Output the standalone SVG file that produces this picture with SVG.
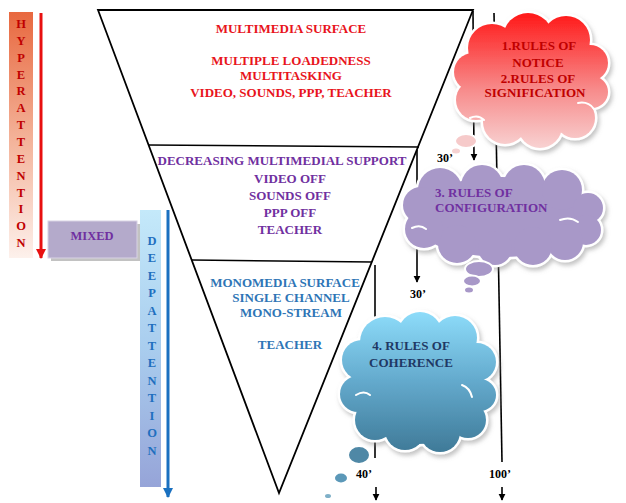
<svg xmlns="http://www.w3.org/2000/svg" width="626" height="503" viewBox="0 0 626 503">
<style>
text{font-family:"Liberation Serif","Times New Roman",serif;font-weight:bold}
.t{font-size:13px;text-anchor:middle}
.red{fill:#e8141c}
.pur{fill:#7030a0}
.blu{fill:#2e75b6}
.hy{font-size:12.5px;fill:#c00000;text-anchor:middle}
.dp{font-size:12.5px;fill:#1f6fbf;text-anchor:middle}
.ln{stroke:#000;stroke-width:1.6;fill:none}
.ar{stroke:#000;stroke-width:1.6;fill:none;marker-end:url(#ah)}
.lbl{font-size:12px;fill:#000;text-anchor:middle}
.tri{fill:#fff;stroke:#000;stroke-width:1.8;stroke-linejoin:miter}
.bub{stroke:#fff;stroke-width:2}
.crease{fill:none;stroke:#fff;stroke-width:2;stroke-linecap:round}
</style>
<defs>
<marker id="ah" viewBox="0 0 10 10" refX="9" refY="5" markerWidth="7" markerHeight="8" markerUnits="userSpaceOnUse" orient="auto"><path d="M0,0 L10,5 L0,10 z" fill="#000"/></marker>
<marker id="ahR" viewBox="0 0 10 10" refX="9" refY="5" markerWidth="10" markerHeight="10" markerUnits="userSpaceOnUse" orient="auto"><path d="M0,0 L10,5 L0,10 z" fill="#e81010"/></marker>
<marker id="ahB" viewBox="0 0 10 10" refX="9" refY="5" markerWidth="10" markerHeight="10" markerUnits="userSpaceOnUse" orient="auto"><path d="M0,0 L10,5 L0,10 z" fill="#1a70c0"/></marker>
<linearGradient id="gHy" x1="0" y1="0" x2="0" y2="1"><stop offset="0" stop-color="#e8683f"/><stop offset="0.5" stop-color="#f3b096"/><stop offset="1" stop-color="#fdf1ec"/></linearGradient>
<linearGradient id="gDp" x1="0" y1="0" x2="0" y2="1"><stop offset="0" stop-color="#c4e9fa"/><stop offset="0.5" stop-color="#a9cdee"/><stop offset="1" stop-color="#96a4d8"/></linearGradient>
<linearGradient id="gRed" gradientUnits="userSpaceOnUse" x1="0" y1="14" x2="0" y2="150"><stop offset="0" stop-color="#ff1a1a"/><stop offset="0.55" stop-color="#f78a8a"/><stop offset="1" stop-color="#f8d4d4"/></linearGradient>
<linearGradient id="gBlu" gradientUnits="userSpaceOnUse" x1="0" y1="312" x2="0" y2="452"><stop offset="0" stop-color="#8ddcfa"/><stop offset="0.5" stop-color="#63a9cc"/><stop offset="1" stop-color="#3f7a98"/></linearGradient>
<filter id="sh" x="-10%" y="-10%" width="130%" height="130%"><feDropShadow dx="2" dy="3" stdDeviation="2" flood-color="#888" flood-opacity="0.5"/></filter>
<g id="cR">
<ellipse cx="531" cy="82" rx="66" ry="52"/>
<circle cx="492" cy="48" r="24"/><circle cx="528" cy="38" r="25"/><circle cx="566" cy="40" r="24"/>
<circle cx="590" cy="63" r="18"/><circle cx="592" cy="92" r="16"/><circle cx="575" cy="118" r="20"/>
<circle cx="540" cy="126" r="22"/><circle cx="505" cy="122" r="22"/><circle cx="476" cy="100" r="20"/>
<circle cx="473" cy="72" r="19"/>
</g>
<g id="cP">
<ellipse cx="502" cy="217" rx="92" ry="40"/>
<circle cx="440" cy="190" r="22"/><circle cx="482" cy="186" r="21"/><circle cx="524" cy="186" r="21"/>
<circle cx="562" cy="190" r="20"/><circle cx="588" cy="208" r="15"/><circle cx="586" cy="230" r="15"/>
<circle cx="565" cy="242" r="18"/><circle cx="533" cy="246" r="19"/><circle cx="495" cy="248" r="17"/>
<circle cx="457" cy="244" r="19"/><circle cx="424" cy="229" r="19"/><circle cx="421" cy="205" r="18"/>
</g>
<g id="cB">
<ellipse cx="418" cy="384" rx="66" ry="60"/>
<circle cx="385" cy="342" r="25"/><circle cx="420" cy="334" r="22"/><circle cx="455" cy="338" r="22"/>
<circle cx="477" cy="362" r="19"/><circle cx="480" cy="395" r="16"/><circle cx="468" cy="420" r="18"/>
<circle cx="440" cy="432" r="20"/><circle cx="405" cy="430" r="20"/><circle cx="375" cy="420" r="20"/>
<circle cx="358" cy="394" r="18"/><circle cx="362" cy="360" r="20"/>
</g>
</defs>
<rect width="626" height="503" fill="#fff"/>

<g id="funnel">
<path class="tri" d="M98,10 L473,10 L279,493 Z"/>
<line class="ln" x1="148" y1="145" x2="419" y2="147"/>
<line class="ln" x1="192" y1="260" x2="372" y2="262"/>
</g>

<g id="multimedia-surface">
<text class="t red" x="291" y="33">MULTIMEDIA SURFACE</text>
<text class="t red" x="291" y="65">MULTIPLE LOADEDNESS</text>
<text class="t red" x="291" y="80">MULTITASKING</text>
<text class="t red" x="291" y="97">VIDEO, SOUNDS, PPP, TEACHER</text>
</g>

<g id="decreasing-support">
<text class="t pur" x="282" y="165">DECREASING MULTIMEDIAL SUPPORT</text>
<text class="t pur" x="290" y="183">VIDEO OFF</text>
<text class="t pur" x="290" y="200">SOUNDS OFF</text>
<text class="t pur" x="290" y="217">PPP OFF</text>
<text class="t pur" x="290" y="234">TEACHER</text>
</g>

<g id="monomedia-surface">
<text class="t blu" x="285" y="287">MONOMEDIA SURFACE</text>
<text class="t blu" x="291" y="302">SINGLE CHANNEL</text>
<text class="t blu" x="291" y="317">MONO-STREAM</text>
<text class="t blu" x="290" y="349">TEACHER</text>
</g>

<g id="hyperattention">
<rect x="9" y="12" width="24" height="246" fill="url(#gHy)"/>
<text class="hy" x="21" y="28">H</text>
<text class="hy" x="21" y="45">Y</text>
<text class="hy" x="21" y="62">P</text>
<text class="hy" x="21" y="79">E</text>
<text class="hy" x="21" y="95">R</text>
<text class="hy" x="21" y="112">A</text>
<text class="hy" x="21" y="129">T</text>
<text class="hy" x="21" y="146">T</text>
<text class="hy" x="21" y="163">E</text>
<text class="hy" x="21" y="180">N</text>
<text class="hy" x="21" y="197">T</text>
<text class="hy" x="21" y="213">I</text>
<text class="hy" x="21" y="230">O</text>
<text class="hy" x="21" y="247">N</text>
<line x1="41" y1="13" x2="41" y2="258" stroke="#e81010" stroke-width="3" marker-end="url(#ahR)"/>
</g>

<g id="mixed">
<rect x="51" y="224" width="89" height="37" fill="#9a9a9a" opacity="0.6"/>
<rect x="48" y="221" width="89" height="37" fill="#b4aacb" stroke="#d8d2e4" stroke-width="1"/>
<text x="92" y="240" style="font-size:12.5px;fill:#7030a0;text-anchor:middle">MIXED</text>
</g>

<g id="deepattention">
<rect x="140" y="210" width="21" height="277" fill="url(#gDp)"/>
<text class="dp" x="152" y="245">D</text>
<text class="dp" x="152" y="262">E</text>
<text class="dp" x="152" y="280">E</text>
<text class="dp" x="152" y="297">P</text>
<text class="dp" x="152" y="315">A</text>
<text class="dp" x="152" y="332">T</text>
<text class="dp" x="152" y="350">T</text>
<text class="dp" x="152" y="367">E</text>
<text class="dp" x="152" y="385">N</text>
<text class="dp" x="152" y="402">T</text>
<text class="dp" x="152" y="420">I</text>
<text class="dp" x="152" y="437">O</text>
<text class="dp" x="152" y="455">N</text>
<line x1="168" y1="210" x2="168" y2="497" stroke="#1a70c0" stroke-width="3" marker-end="url(#ahB)"/>
</g>

<g id="connectors">
<line class="ar" x1="473" y1="11" x2="474" y2="160"/>
<text class="lbl" x="445" y="162">30’</text>
<line class="ar" x1="417" y1="150" x2="417" y2="282"/>
<text class="lbl" x="418" y="298">30’</text>
<line class="ln" x1="375" y1="265" x2="375" y2="458"/>
<text class="lbl" x="364" y="478">40’</text>
<line class="ar" x1="376" y1="487" x2="376" y2="500"/>
<line class="ln" x1="494" y1="13" x2="502" y2="462"/>
<text class="lbl" x="500" y="478">100’</text>
<line class="ar" x1="502" y1="487" x2="502" y2="500"/>
</g>

<g id="cloud-notice">
<g filter="url(#sh)">
<use href="#cR" fill="#fff" stroke="#fff" stroke-width="5"/>
<use href="#cR" fill="url(#gRed)"/>
</g>
<path class="crease" d="M578,103 q10,-2 16,6"/>
<path class="crease" d="M470,118 q8,-4 14,2"/>
<ellipse class="bub" cx="466" cy="141" rx="11" ry="7" fill="#f6caca"/>
<ellipse class="bub" cx="456" cy="151" rx="5" ry="3.5" fill="#f6d2d2"/>
<text class="t" x="539" y="50" style="fill:#c00000">1.RULES OF</text>
<text class="t" x="538" y="67" style="fill:#c00000">NOTICE</text>
<text class="t" x="538" y="83" style="fill:#c00000">2.RULES OF</text>
<text class="t" x="535" y="97" style="fill:#c00000">SIGNIFICATION</text>
</g>

<g id="cloud-configuration">
<g filter="url(#sh)">
<use href="#cP" fill="#fff" stroke="#fff" stroke-width="5"/>
<use href="#cP" fill="#a898c8"/>
</g>
<path class="crease" d="M560,220 q10,-4 18,2"/>
<path class="crease" d="M412,228 q8,-4 14,1"/>
<ellipse class="bub" cx="479" cy="269" rx="14" ry="8" fill="#a898c8"/>
<ellipse class="bub" cx="472" cy="281" rx="9" ry="5.5" fill="#a898c8"/>
<ellipse class="bub" cx="469" cy="290" rx="5" ry="3.5" fill="#a898c8"/>
<text x="435" y="197" style="font-size:13px;fill:#7030a0">3. RULES OF</text>
<text x="435" y="212" style="font-size:13px;fill:#7030a0">CONFIGURATION</text>
</g>

<g id="cloud-coherence">
<g filter="url(#sh)">
<use href="#cB" fill="#fff" stroke="#fff" stroke-width="5"/>
<use href="#cB" fill="url(#gBlu)"/>
</g>
<path class="crease" d="M462,385 q8,3 10,12"/>
<path class="crease" d="M356,395 q8,-5 14,0"/>
<ellipse class="bub" cx="359" cy="455" rx="11" ry="9" fill="#4f88a6"/>
<ellipse class="bub" cx="341" cy="478" rx="7" ry="5.5" fill="#5b98b8"/>
<ellipse class="bub" cx="328" cy="496" rx="4" ry="3" fill="#7fb0c8"/>
<text class="t" x="411" y="350" style="fill:#1f3864">4. RULES OF</text>
<text class="t" x="411" y="367" style="fill:#1f3864">COHERENCE</text>
</g>
</svg>
